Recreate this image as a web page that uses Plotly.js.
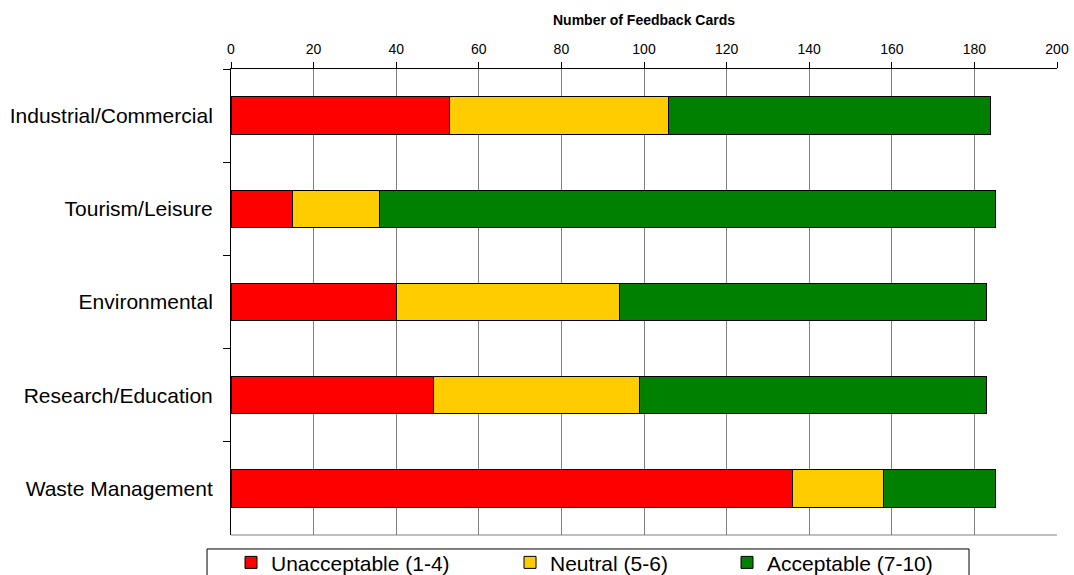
<!DOCTYPE html>
<html>
<head>
<meta charset="utf-8">
<script src="https://cdn.plot.ly/plotly-3.0.1.min.js"></script>
<style>html,body{margin:0;padding:0;background:#fff;}#chart{width:1074px;height:575px;}</style>
</head>
<body>
<div id="chart"></div>
<script>
const categories = ["Industrial/Commercial", "Tourism/Leisure", "Environmental", "Research/Education", "Waste Management"];
const unacceptable = [53, 15, 40, 49, 136];
const neutral = [53, 21, 54, 50, 22];
const acceptable = [78, 149, 89, 84, 27];
const seriesNames = ["Unacceptable (1-4)", "Neutral (5-6)", "Acceptable (7-10)"];
const xTitle = "Number of Feedback Cards";

const colors = ["#FF0000", "#FFCC00", "#008000"];
const values = [unacceptable, neutral, acceptable];
const legendIds = ["legend", "legend2", "legend3"];

const traces = values.map((v, i) => ({
  type: "bar",
  orientation: "h",
  y: categories,
  x: v,
  name: seriesNames[i],
  width: 0.4,
  marker: {color: colors[i], line: {color: "#000000", width: 1}},
  legend: legendIds[i],
  hoverinfo: "skip"
}));

const FONT = "Liberation Sans, Arial, sans-serif";
const legendBase = {
  orientation: "h",
  yanchor: "middle",
  y: -0.0595,
  xanchor: "left",
  bgcolor: "rgba(0,0,0,0)",
  borderwidth: 0,
  font: {family: FONT, size: 21, color: "#000"}
};

const layout = {
  width: 1074,
  height: 575,
  margin: {l: 231, r: 17, t: 69, b: 40, autoexpand: false},
  paper_bgcolor: "#ffffff",
  plot_bgcolor: "#ffffff",
  barmode: "stack",
  font: {family: FONT, color: "#000"},
  showlegend: true,
  legend: Object.assign({}, legendBase, {x: 0.0}),
  legend2: Object.assign({}, legendBase, {x: 0.3378}),
  legend3: Object.assign({}, legendBase, {x: 0.6005}),
  xaxis: {
    side: "top",
    range: [0, 200],
    dtick: 20,
    tick0: 0,
    showgrid: true,
    gridcolor: "#808080",
    gridwidth: 1,
    zeroline: false,
    showline: true,
    linecolor: "#000000",
    linewidth: 1,
    ticks: "outside",
    ticklen: 6,
    tickcolor: "#000000",
    tickfont: {family: FONT, size: 14, color: "#000"},
    ticklabelstandoff: 2,
    title: {text: xTitle, font: {family: FONT, size: 14, color: "#000", weight: "bold"}, standoff: 12},
    fixedrange: true
  },
  yaxis: {
    type: "category",
    categoryorder: "array",
    categoryarray: categories,
    range: [4.5, -0.5],
    showgrid: false,
    zeroline: false,
    showline: true,
    linecolor: "#000000",
    linewidth: 1,
    ticks: "outside",
    tickson: "boundaries",
    ticklen: 7,
    tickcolor: "#000000",
    tickfont: {family: FONT, size: 21, color: "#000"},
    ticklabelstandoff: 13,
    fixedrange: true
  },
  shapes: [
    {type: "line", xref: "paper", yref: "paper", x0: 0, x1: 1, y0: 0, y1: 0,
     line: {color: "#808080", width: 1}, layer: "below"},
    {type: "rect", xref: "paper", yref: "paper", x0: -0.029, x1: 0.8935, y0: -0.2, y1: -0.030,
     line: {color: "#000000", width: 1}, fillcolor: "rgba(0,0,0,0)", layer: "above"}
  ]
};

Plotly.newPlot("chart", traces, layout, {displayModeBar: false, staticPlot: true});
</script>
</body>
</html>
